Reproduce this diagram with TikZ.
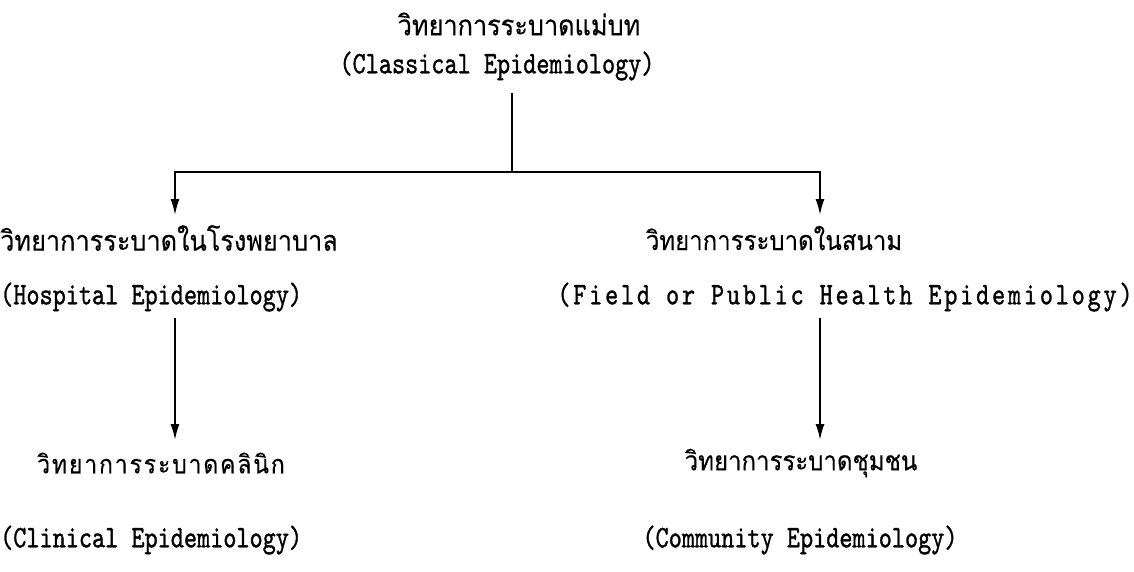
\documentclass[tikz,border=0pt]{standalone}
\usepackage{fontspec}
\usepackage{graphicx}
\usetikzlibrary{arrows.meta}
\newfontfamily\thai[Script=Thai,FakeBold=0.3]{Loma}
\newfontfamily\thaisp[Script=Thai,LetterSpace=8,FakeBold=0.3]{Loma}
\newfontfamily\mono[FakeBold=1.2]{lmmono10-regular.otf}
\newfontfamily\monosp[FakeBold=1.2,LetterSpace=11.2]{lmmono10-regular.otf}
\newcommand{\tall}[1]{\scalebox{1}[1.25]{#1}}
\newcommand{\thtall}[1]{\scalebox{1}[1.12]{#1}}
\tikzset{
  en/.style={inner sep=0pt, font=\mono\fontsize{25}{30}\selectfont},
  ensp/.style={inner sep=0pt, font=\monosp\fontsize{25}{30}\selectfont},
  th/.style={inner sep=0pt, font=\thai\fontsize{25.3}{32}\selectfont},
  thsm/.style={inner sep=0pt, font=\thai\fontsize{24}{32}\selectfont},
  thsp/.style={inner sep=0pt, font=\thaisp\fontsize{23}{28}\selectfont},
  ln/.style={line width=1.8pt},
  arr/.style={ln, -{Latex[length=16pt,width=9pt]}}
}
\begin{document}
\begin{tikzpicture}[x=1pt,y=-1pt]
\useasboundingbox (0,0) rectangle (1134,571);
% top
\node[th] (t1) at (519,24) {\thtall{วิทยาการระบาดแม่บท}};
\node[en] (t2) at (497,66) {\tall{(Classical Epidemiology)}};
% left
\node[th, anchor=west] (l1) at (0,238) {\thtall{วิทยาการระบาดในโรงพยาบาล}};
\node[en, anchor=west] (l2) at (0,297) {\tall{(Hospital Epidemiology)}};
\node[thsp, anchor=west] (l3) at (37,463) {\thtall{วิทยาการระบาดคลินิก}};
\node[en, anchor=west] (l4) at (0,540) {\tall{(Clinical Epidemiology)}};
% right
\node[thsm] (r1) at (774,238) {\thtall{วิทยาการระบาดในสนาม}};
\node[ensp] (r2) at (845,297) {\tall{(Field or Public Health Epidemiology)}};
\node[thsm] (r3) at (801,463) {\thtall{วิทยาการระบาดชุมชน}};
\node[en] (r4) at (800,540) {\tall{(Community Epidemiology)}};
% connectors
\coordinate (jt) at (512,93);
\coordinate (j) at (512,172);
\coordinate (la) at (175,215);
\coordinate (ra) at (820,215);
\coordinate (lb1) at (175,318);
\coordinate (lb2) at (175,440);
\coordinate (rb1) at (820,318);
\coordinate (rb2) at (820,440);
\draw[ln] (jt) -- (j);
\draw[arr] (j) -| (la);
\draw[arr] (j) -| (ra);
\draw[arr] (lb1) -- (lb2);
\draw[arr] (rb1) -- (rb2);
\end{tikzpicture}
\end{document}
